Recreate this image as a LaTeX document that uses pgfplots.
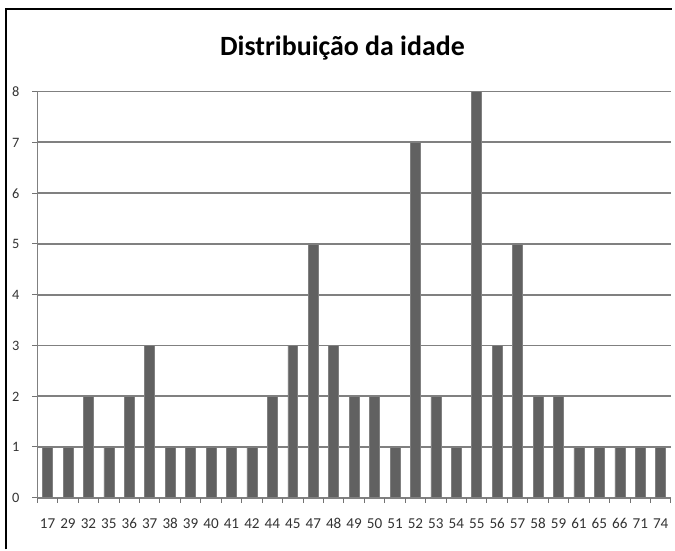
\documentclass[border=0pt]{standalone}
\usepackage{pgfplots}
\pgfplotsset{compat=1.18}
\usepackage{fontspec}
\setmainfont{Carlito}
\begin{document}
\begin{tikzpicture}
\path (0,0) rectangle (337.5pt,276pt);
\draw[black, line width=1pt] (3pt,0) -- (3pt,271.5pt) -- (337.5pt,271.5pt);
\node[font=\fontsize{14}{16}\selectfont\bfseries] at (172pt,252pt) {Distribuição da idade};
\begin{axis}[
  at={(18.75pt,26pt)}, anchor=south west,
  scale only axis, width=318.25pt, height=204pt,
  xmin=-0.5, xmax=30.5, ymin=0, ymax=8,
  ybar, bar width=5pt,
  axis x line*=bottom, axis y line*=left,
  axis line style={draw=black!50, line width=0.7pt},
  xtick={0,...,30},
  xticklabels={17,29,32,35,36,37,38,39,40,41,42,44,45,47,48,49,50,51,52,53,54,55,56,57,58,59,61,65,66,71,74},
  major x tick style={draw=none},
  minor xtick={-0.5,0.5,...,30.5},
  minor x tick style={draw=black!55, line width=0.5pt},
  minor tick length=2.5pt,
  ytick={0,...,8},
  ymajorgrids, grid style={draw=black!50, line width=0.9pt},
  tick align=outside, major tick length=2.5pt,
  y tick style={draw=black!55, line width=0.5pt},
  xticklabel style={font=\fontsize{7.6}{8}\selectfont, text=black!80, yshift=-4pt, anchor=north, text height=5.5pt, text depth=0pt},
  yticklabel style={font=\fontsize{7.2}{8}\selectfont, text=black!80, xshift=-3pt, text height=5pt, text depth=0pt},
  /pgf/number format/assume math mode=true,
  clip=false,
]
\addplot[fill=black!62, draw=black!50, line width=0.3pt] coordinates {
(0,1) (1,1) (2,2) (3,1) (4,2) (5,3) (6,1) (7,1) (8,1) (9,1) (10,1)
(11,2) (12,3) (13,5) (14,3) (15,2) (16,2) (17,1) (18,7) (19,2) (20,1)
(21,8) (22,3) (23,5) (24,2) (25,2) (26,1) (27,1) (28,1) (29,1) (30,1)};
\end{axis}
\end{tikzpicture}
\end{document}
